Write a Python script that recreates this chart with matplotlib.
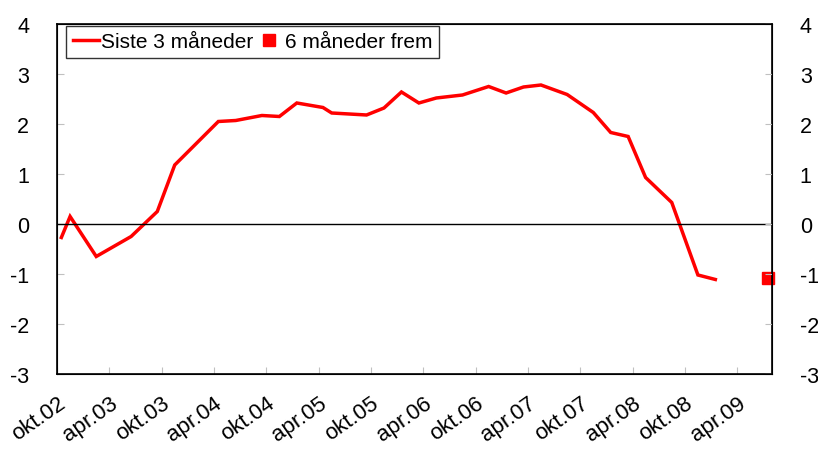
import numpy as np
import pandas as pd
import matplotlib.pyplot as plt

plt.rcParams['font.family'] = ['Liberation Sans', 'DejaVu Sans']
plt.rcParams['axes.unicode_minus'] = False

# Data (månedlig kategoriakse, start okt.02)
start = "2002-10"
siste_datoer = ["2002-10", "2002-11", "2003-02", "2003-06", "2003-09", "2003-11",
                "2004-04", "2004-06", "2004-09", "2004-11", "2005-01", "2005-04",
                "2005-05", "2005-09", "2005-11", "2006-01", "2006-03", "2006-05",
                "2006-08", "2006-11", "2007-01", "2007-03", "2007-05", "2007-08",
                "2007-11", "2008-01", "2008-03", "2008-05", "2008-08", "2008-11",
                "2009-01"]
siste_verdier = [-0.27, 0.15, -0.65, -0.25, 0.25, 1.18,
                 2.05, 2.07, 2.17, 2.15, 2.42, 2.33,
                 2.22, 2.18, 2.32, 2.64, 2.42, 2.52,
                 2.58, 2.75, 2.62, 2.74, 2.78, 2.59,
                 2.23, 1.83, 1.75, 0.93, 0.43, -1.02,
                 -1.11]
frem_datoer = ["2009-07"]
frem_verdier = [-1.09]

n_maaneder = 82
tick_labels = ["okt.02", "apr.03", "okt.03", "apr.04", "okt.04", "apr.05", "okt.05",
               "apr.06", "okt.06", "apr.07", "okt.07", "apr.08", "okt.08", "apr.09"]
y_ticks = [-3, -2, -1, 0, 1, 2, 3, 4]


def maaned_indeks(datoer):
    p = pd.PeriodIndex(datoer, freq="M")
    s = pd.Period(start, freq="M")
    return np.array([(d - s).n for d in p]) + 0.5


fig = plt.figure(figsize=(8.18, 4.52), dpi=100)
ax = fig.add_axes([0.0697, 0.1704, 0.8741, 0.7743])

ax.plot(maaned_indeks(siste_datoer), siste_verdier, color="red", lw=2.5,
        label="Siste 3 måneder", solid_joinstyle="miter")
ax.plot(maaned_indeks(frem_datoer), frem_verdier, "s", color="red", ms=8.5,
        label="6 måneder frem", clip_on=False)
ax.axhline(0, color="black", lw=1)

ax.set_xlim(0, n_maaneder)
ax.set_ylim(-3, 4)
ax.set_yticks(y_ticks)
ax.set_xticks(np.arange(0, 6 * len(tick_labels), 6))
ax.set_xticklabels(tick_labels, rotation=35, ha="right", rotation_mode="anchor")
ax.tick_params(axis="x", direction="in", length=5, color="#c0c0c0", labelsize=16, pad=13)
ax.tick_params(axis="y", direction="in", length=5, color="#c0c0c0", labelsize=15.5, pad=20)
for s in ax.spines.values():
    s.set_linewidth(1.2)

ax2 = ax.twinx()
ax2.set_ylim(-3, 4)
ax2.set_yticks(y_ticks)
ax2.tick_params(axis="y", direction="in", length=5, color="#c0c0c0", labelsize=15.5, pad=20)

# Legende oppe til venstre, tett mot toppen
leg = ax.legend(loc="upper left", bbox_to_anchor=(0.013, 0.995), ncol=2, fontsize=15,
                frameon=True, fancybox=False, edgecolor="black", handlelength=1.25,
                handletextpad=0.1, columnspacing=0.15, borderpad=0.32, borderaxespad=0,
                shadow=False)
leg.get_frame().set_linewidth(1.0)

fig.savefig("out.png", dpi=100)
